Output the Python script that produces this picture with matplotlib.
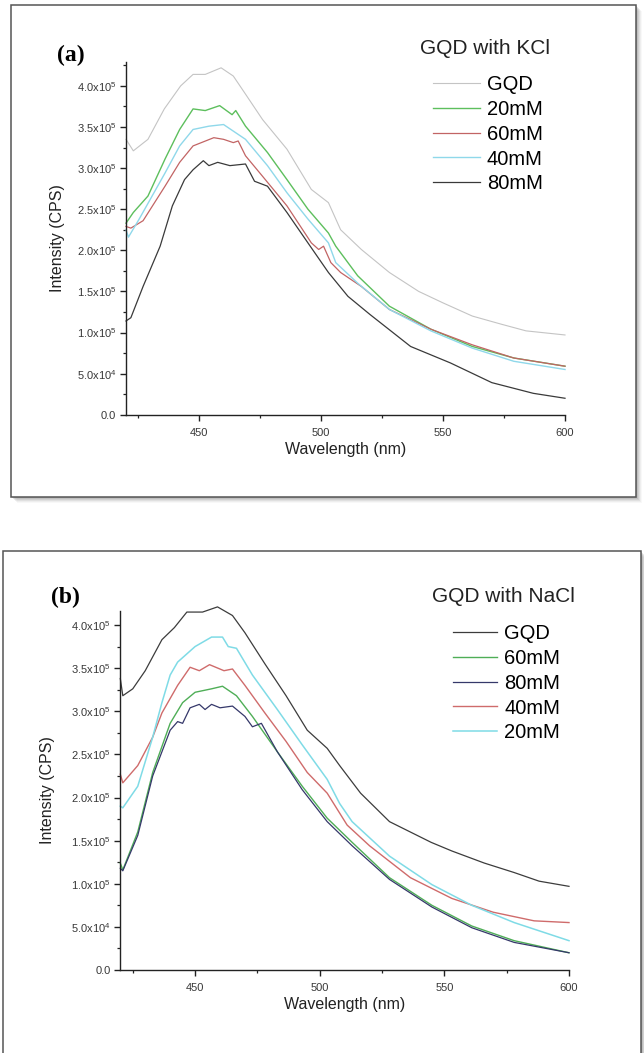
#!/usr/bin/env python3
# plot.py - fluorescence spectra of GQD with KCl / NaCl

import matplotlib
matplotlib.use("Agg")
import matplotlib.pyplot as plt
from matplotlib.patches import Rectangle
from matplotlib.ticker import FixedLocator, MultipleLocator

plt.rcParams["font.family"] = ["Liberation Sans", "DejaVu Sans"]
plt.rcParams["mathtext.fontset"] = "custom"
plt.rcParams["mathtext.rm"] = "Liberation Sans"

W, H = 644, 1053

# ===== data (intensity in units of 1e5 CPS) =====
# panel (a): GQD with KCl
a_gqd_nm = [420, 423, 429, 435.7, 442.4, 447.5, 452.5, 459, 464, 469, 476, 486, 496, 503, 508, 516.5, 528, 540, 550, 562, 574, 584, 600]
a_gqd_i = [3.35, 3.21, 3.35, 3.72, 4.00, 4.14, 4.14, 4.22, 4.12, 3.90, 3.59, 3.23, 2.74, 2.58, 2.25, 2.01, 1.73, 1.50, 1.36, 1.20, 1.10, 1.02, 0.97]

a_20_nm = [420, 423, 429, 436, 442, 447.5, 452.5, 458.4, 463.5, 465, 469, 478, 486, 494.6, 503, 506, 515, 528, 545, 562, 579, 600]
a_20_i = [2.33, 2.46, 2.66, 3.11, 3.47, 3.72, 3.70, 3.76, 3.65, 3.70, 3.51, 3.19, 2.86, 2.50, 2.21, 2.05, 1.69, 1.32, 1.04, 0.83, 0.69, 0.59]

a_60_nm = [420, 422, 427, 436, 442, 447.5, 456, 460, 464, 466, 469, 476, 486, 496, 499, 501, 504, 508, 516.5, 528, 545, 562, 579, 600]
a_60_i = [2.29, 2.27, 2.36, 2.78, 3.07, 3.27, 3.37, 3.35, 3.31, 3.33, 3.15, 2.90, 2.54, 2.09, 2.01, 2.05, 1.85, 1.73, 1.56, 1.28, 1.04, 0.85, 0.69, 0.59]

a_40_nm = [420, 421, 425.4, 436, 442, 447.5, 454, 460, 464, 469, 478, 486, 494.6, 503, 506, 515, 528, 545, 562, 579, 600]
a_40_i = [2.25, 2.16, 2.38, 2.94, 3.27, 3.47, 3.51, 3.53, 3.45, 3.35, 3.03, 2.70, 2.38, 2.09, 1.85, 1.60, 1.28, 1.02, 0.81, 0.65, 0.55]

a_80_nm = [420, 422, 427, 434, 439, 444, 447.5, 451.7, 454, 457.6, 462.6, 469, 472.7, 478, 486, 494.6, 503, 511, 520, 536.7, 553, 570, 587, 600]
a_80_i = [1.14, 1.18, 1.56, 2.05, 2.54, 2.86, 2.98, 3.09, 3.03, 3.07, 3.03, 3.05, 2.84, 2.78, 2.46, 2.09, 1.73, 1.44, 1.22, 0.83, 0.63, 0.39, 0.26, 0.20]

# panel (b): GQD with NaCl
b_gqd_nm = [420, 421, 425, 430, 436.7, 441.7, 446.7, 453, 459, 465, 470, 478, 486.5, 495, 503, 508, 516.4, 528, 544.7, 553, 566, 578, 588, 600]
b_gqd_i = [3.38, 3.18, 3.26, 3.47, 3.83, 3.97, 4.15, 4.15, 4.21, 4.11, 3.91, 3.55, 3.18, 2.78, 2.57, 2.37, 2.05, 1.72, 1.48, 1.38, 1.24, 1.13, 1.03, 0.97]

b_60_nm = [420, 421, 427, 433, 440, 445, 450, 456.6, 461, 466.6, 473, 483, 493, 503, 513, 528, 545, 561, 578, 600]
b_60_i = [1.24, 1.16, 1.60, 2.29, 2.86, 3.10, 3.22, 3.26, 3.29, 3.18, 2.94, 2.53, 2.13, 1.76, 1.48, 1.07, 0.75, 0.51, 0.34, 0.20]

b_80_nm = [420, 421, 427, 433, 440, 443, 445, 448, 451.7, 454, 456.6, 460, 465, 470, 473, 476.6, 483, 493, 503, 513, 528, 545, 561, 578, 600]
b_80_i = [1.18, 1.15, 1.56, 2.25, 2.78, 2.88, 2.86, 3.04, 3.08, 3.02, 3.08, 3.04, 3.06, 2.94, 2.82, 2.86, 2.53, 2.09, 1.72, 1.44, 1.05, 0.73, 0.49, 0.32, 0.20]

b_40_nm = [420, 421, 427, 433, 436.7, 443, 448, 451.7, 455.8, 461.6, 465, 470, 478, 486.5, 495, 503, 511, 520, 536.4, 553, 569.6, 586, 600]
b_40_i = [2.27, 2.17, 2.37, 2.70, 2.98, 3.30, 3.51, 3.47, 3.54, 3.47, 3.49, 3.30, 2.98, 2.65, 2.29, 2.05, 1.68, 1.44, 1.07, 0.83, 0.67, 0.57, 0.55]

b_20_nm = [420, 421, 427, 433, 436.7, 440, 443, 450, 456.6, 461, 463.3, 466.6, 473, 483, 493, 503, 508, 513, 528, 545, 561, 578, 600]
b_20_i = [1.90, 1.88, 2.13, 2.70, 3.10, 3.42, 3.57, 3.75, 3.86, 3.86, 3.75, 3.73, 3.42, 3.02, 2.61, 2.21, 1.93, 1.72, 1.32, 0.99, 0.75, 0.55, 0.34]

y_ticks = [0, 0.5, 1.0, 1.5, 2.0, 2.5, 3.0, 3.5, 4.0]
y_tick_labels = ["0.0", r"5.0x10$^{4}$", r"1.0x10$^{5}$", r"1.5x10$^{5}$", r"2.0x10$^{5}$",
                 r"2.5x10$^{5}$", r"3.0x10$^{5}$", r"3.5x10$^{5}$", r"4.0x10$^{5}$"]
x_ticks = [450, 500, 550, 600]


def fr(x0, y0, x1, y1):
    """pixel box (top-left origin) -> figure fraction rect"""
    return [x0 / W, 1 - y1 / H, (x1 - x0) / W, (y1 - y0) / H]


def style_axes(ax, ytop):
    ax.set_xlim(420, 600)
    ax.set_ylim(0, ytop)
    for s in ("top", "right"):
        ax.spines[s].set_visible(False)
    for s in ("left", "bottom"):
        ax.spines[s].set_linewidth(1.0)
        ax.spines[s].set_color("#222222")
    ax.yaxis.set_major_locator(FixedLocator(y_ticks))
    ax.set_yticklabels(y_tick_labels)
    ax.yaxis.set_minor_locator(MultipleLocator(0.25))
    ax.xaxis.set_major_locator(FixedLocator(x_ticks))
    ax.xaxis.set_minor_locator(MultipleLocator(25))
    ax.tick_params(which="major", length=4.5, width=1.0, color="#222222", labelsize=8,
                   labelcolor="#383838", pad=2.5)
    ax.tick_params(axis="x", which="major", pad=5)
    ax.tick_params(which="minor", length=2.5, width=0.9, color="#222222")
    ax.set_xlabel("Wavelength (nm)", fontsize=11.5, color="#222222", labelpad=3)
    ax.set_ylabel("Intensity (CPS)", fontsize=11.5, color="#222222")
    for ln in ax.get_lines():
        ln.set_clip_on(False)


fig = plt.figure(figsize=(W / 100, H / 100), dpi=100)
fig.patch.set_facecolor("white")

# panel frames with a soft drop shadow
def frame(x0, y0, x1, y1):
    for k, a in zip(range(6, 0, -1), [0.05, 0.08, 0.12, 0.16, 0.2, 0.25]):
        fig.patches.append(Rectangle(((x0 + k) / W, 1 - (y1 + k) / H), (x1 - x0) / W, (y1 - y0) / H,
                                     transform=fig.transFigure, facecolor="#808080", alpha=a,
                                     edgecolor="none", zorder=-3))
    fig.patches.append(Rectangle((x0 / W, 1 - y1 / H), (x1 - x0) / W, (y1 - y0) / H,
                                 transform=fig.transFigure, facecolor="white",
                                 edgecolor="#555555", linewidth=1.1, zorder=-2))

frame(11, 5, 636, 497)
frame(3, 551, 641, 1070)

leg_kw = dict(loc="upper left", bbox_transform=fig.transFigure, frameon=False, fontsize=14.5,
              handletextpad=0.35, labelspacing=0.29, borderpad=0, borderaxespad=0)

# ---- panel (a) ----
ax1 = fig.add_axes(fr(126, 62, 565, 414.7))
ax1.set_zorder(2)
ax1.set_facecolor("none")
ax1.plot(a_gqd_nm, a_gqd_i, color="#c4c4c4", lw=0.8, label="GQD")
ax1.plot(a_20_nm, a_20_i, color="#5dbf5d", lw=1.0, label="20mM")
ax1.plot(a_60_nm, a_60_i, color="#c26464", lw=0.9, label="60mM")
ax1.plot(a_40_nm, a_40_i, color="#8fd8ea", lw=1.0, label="40mM")
ax1.plot(a_80_nm, a_80_i, color="#3a3a3a", lw=0.9, label="80mM")
style_axes(ax1, (414.7 - 62) / 82.2)
ax1.yaxis.set_label_coords(65 / W, 1 - 238 / H, transform=fig.transFigure)
ax1.legend(bbox_to_anchor=(433 / W, 1 - 75 / H), handlelength=2.33, **leg_kw)
fig.text(485 / W, 1 - 48 / H, "GQD with KCl", fontsize=15, ha="center", va="center", color="#222222")
fig.text(71 / W, 1 - 55 / H, "(a)", fontsize=17, fontweight="bold", ha="center", va="center",
         family=["Liberation Serif", "DejaVu Serif"])

# ---- panel (b) ----
ax2 = fig.add_axes(fr(120.3, 610.7, 569, 970))
ax2.set_zorder(2)
ax2.set_facecolor("none")
ax2.plot(b_gqd_nm, b_gqd_i, color="#3c3c3c", lw=0.9, label="GQD")
ax2.plot(b_60_nm, b_60_i, color="#4fae57", lw=1.0, label="60mM")
ax2.plot(b_80_nm, b_80_i, color="#35386a", lw=0.9, label="80mM")
ax2.plot(b_40_nm, b_40_i, color="#cf6b6b", lw=1.0, label="40mM")
ax2.plot(b_20_nm, b_20_i, color="#7fdbe6", lw=1.1, label="20mM")
style_axes(ax2, (970 - 610.7) / 86.25)
ax2.yaxis.set_label_coords(55 / W, 1 - 790 / H, transform=fig.transFigure)
ax2.legend(bbox_to_anchor=(453 / W, 1 - 624 / H), handlelength=2.2, **leg_kw)
fig.text(503 / W, 1 - 597 / H, "GQD with NaCl", fontsize=15, ha="center", va="center", color="#222222")
fig.text(65 / W, 1 - 597.5 / H, "(b)", fontsize=17, fontweight="bold", ha="center", va="center",
         family=["Liberation Serif", "DejaVu Serif"])

fig.savefig("out.png", dpi=100)
